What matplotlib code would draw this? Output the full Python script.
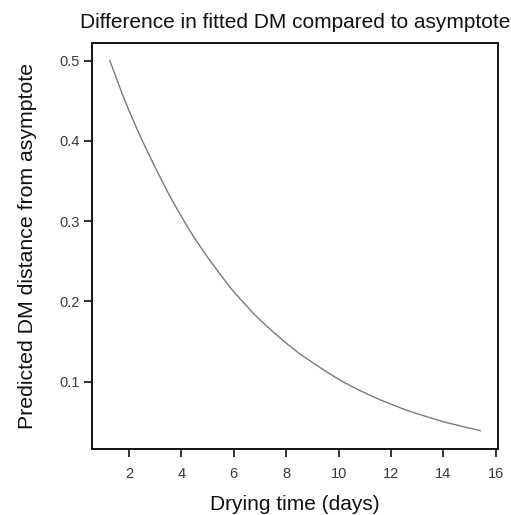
import matplotlib
matplotlib.use("Agg")
import matplotlib.pyplot as plt

plt.rcParams['font.family'] = ['Liberation Sans', 'DejaVu Sans']

# Fitted curve: drying time (days) vs predicted DM distance from asymptote
drying_days = [1.27, 1.5, 1.75, 2.0, 2.25, 2.5, 2.75, 3.0, 3.25, 3.5, 3.75,
               4.0, 4.25, 4.5, 4.75, 5.0, 5.25, 5.5, 5.75, 6.0, 6.25, 6.5,
               6.75, 7.0, 7.5, 8.0, 8.5, 9.0, 9.5, 10.0, 10.5, 11.0, 11.5,
               12.0, 12.5, 13.0, 13.5, 14.0, 14.5, 15.0, 15.4]
dm_distance = [0.500, 0.480, 0.458, 0.438, 0.419, 0.401, 0.384, 0.367, 0.351,
               0.335, 0.320, 0.306, 0.292, 0.279, 0.267, 0.255, 0.244, 0.233,
               0.222, 0.212, 0.203, 0.194, 0.185, 0.177, 0.162, 0.148, 0.135,
               0.124, 0.113, 0.103, 0.094, 0.086, 0.0785, 0.072, 0.0655,
               0.060, 0.055, 0.050, 0.046, 0.042, 0.039]

x_ticks = [2, 4, 6, 8, 10, 12, 14, 16]
y_ticks = [0.1, 0.2, 0.3, 0.4, 0.5]

fig = plt.figure(figsize=(5.11, 5.15), dpi=100)
ax = fig.add_axes([0.180, 0.128, 0.7946, 0.7885])

ax.plot(drying_days, dm_distance, color='#7a7a7a', linewidth=1.0)

ax.set_xlim(0.59, 16.08)
ax.set_ylim(0.016, 0.522)
ax.set_xticks(x_ticks)
ax.set_yticks(y_ticks)
ax.set_xticklabels([str(t) for t in x_ticks])
ax.set_yticklabels([f"{t:.1f}" for t in y_ticks])

for s in ax.spines.values():
    s.set_linewidth(1.4)
    s.set_color('#111111')

ax.tick_params(direction='out', length=6, width=1.3, color='#222222',
               labelsize=10.5, labelcolor='#3a3a3a')
ax.tick_params(axis='x', pad=7)
ax.tick_params(axis='y', pad=3)

ax.set_title("Difference in fitted DM compared to asymptote", fontsize=15,
             color='#111111', pad=11)
ax.set_xlabel("Drying time (days)", fontsize=15, color='#111111', labelpad=10)
ax.set_ylabel("Predicted DM distance from asymptote", fontsize=15.3,
              color='#111111', labelpad=16)

fig.savefig("out.png", dpi=100)
